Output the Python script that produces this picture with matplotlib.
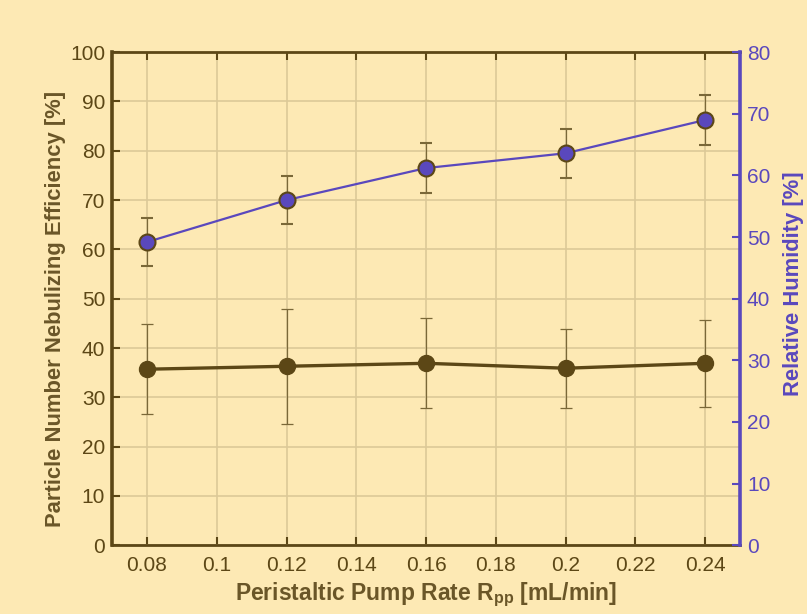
import matplotlib
matplotlib.use('Agg')
import matplotlib.pyplot as plt

# pump rate settings and the measured values at each
pump_rate = [0.08, 0.12, 0.16, 0.20, 0.24]
efficiency = [35.7, 36.3, 36.9, 35.9, 36.9]
efficiency_err = [9.1, 11.7, 9.1, 8.0, 8.8]
humidity = [49.2, 56.0, 61.2, 63.6, 69.0]
humidity_err = [3.9, 3.9, 4.0, 4.0, 4.0]

x_ticks = [0.08, 0.10, 0.12, 0.14, 0.16, 0.18, 0.20, 0.22, 0.24]
x_ticklabels = ['0.08', '0.1', '0.12', '0.14', '0.16', '0.18', '0.2', '0.22', '0.24']

BG = '#FDE9B4'
BROWN = '#5C4716'
LABEL_BROWN = '#6A5628'
PURPLE = '#5A48BD'
GRID = '#DCC998'

plt.rcParams['font.family'] = ['Liberation Sans', 'DejaVu Sans']
plt.rcParams['mathtext.fontset'] = 'custom'
plt.rcParams['mathtext.bf'] = 'Liberation Sans:bold'

fig = plt.figure(figsize=(8.07, 6.14), dpi=100, facecolor=BG)
ax = fig.add_axes([0.139, 0.112, 0.778, 0.803], facecolor=BG)
ax2 = ax.twinx()

ax.errorbar(pump_rate, efficiency, yerr=efficiency_err, color=BROWN, lw=2.4,
            marker='o', ms=11.5, mfc=BROWN, mec=BROWN, ecolor='#7A6838',
            elinewidth=0.9, capsize=4, capthick=0.9, zorder=3)
ax2.errorbar(pump_rate, humidity, yerr=humidity_err, color=PURPLE, lw=1.6,
             marker='o', ms=11.5, mfc=PURPLE, mec=BROWN, mew=1.5,
             ecolor='#7A6838', elinewidth=0.9, capsize=4, capthick=0.9, zorder=3)

ax.set_xlim(0.07, 0.25)
ax.set_ylim(0, 100)
ax2.set_ylim(0, 80)
ax.set_xticks(x_ticks)
ax.set_xticklabels(x_ticklabels)
ax.set_yticks(range(0, 101, 10))
ax2.set_yticks(range(0, 81, 10))

ax.grid(True, color=GRID, lw=1.2)
ax.set_axisbelow(True)

ax.tick_params(axis='both', direction='in', length=6, width=1.5, colors=BROWN,
               labelsize=15, top=True, right=False)
ax.tick_params(axis='y', pad=5)
ax.tick_params(axis='x', pad=8)
ax2.tick_params(axis='y', direction='in', length=6, width=1.5, colors=PURPLE,
                labelsize=15, pad=5)

for side in ['left', 'top', 'bottom']:
    ax.spines[side].set_color(BROWN)
ax.spines['left'].set_linewidth(2.6)
ax.spines['top'].set_linewidth(2.0)
ax.spines['bottom'].set_linewidth(2.0)
ax.spines['right'].set_visible(False)
ax2.spines['right'].set_color(PURPLE)
ax2.spines['right'].set_linewidth(2.6)
for side in ['left', 'top', 'bottom']:
    ax2.spines[side].set_visible(False)

ax.set_ylabel('Particle Number Nebulizing Efficiency [%]', fontsize=15.8,
              fontweight='bold', color=LABEL_BROWN)
ax.yaxis.set_label_coords(-0.074, 0.48)
ax2.set_ylabel('Relative Humidity [%]', fontsize=15.8, fontweight='bold',
               color=PURPLE)
ax2.yaxis.set_label_coords(1.068, 0.53)
ax.set_xlabel(r'Peristaltic Pump Rate R$_{\mathbf{pp}}$ [mL/min]', fontsize=16.5,
              fontweight='bold', color=LABEL_BROWN, labelpad=4)

fig.savefig('out.png', dpi=100, facecolor=BG)
